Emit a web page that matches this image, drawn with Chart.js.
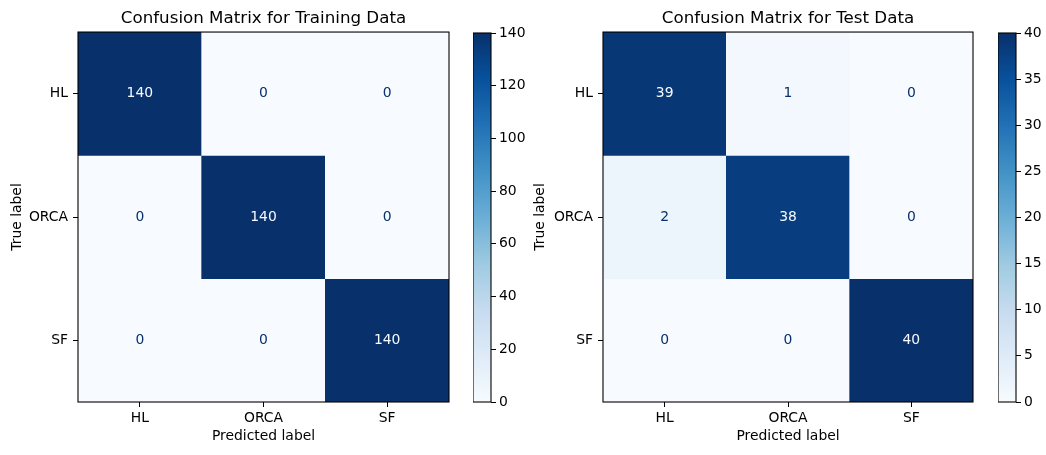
<!DOCTYPE html>
<html>
<head>
<meta charset="utf-8">
<script src="https://cdn.jsdelivr.net/npm/chart.js@4.4.0/dist/chart.umd.min.js"></script>
<style>
  html, body { margin: 0; padding: 0; background: #fff; }
  #wrap { position: relative; width: 1046px; height: 455px; overflow: hidden; }
  canvas { position: absolute; top: 0; }
</style>
</head>
<body>
<div id="wrap">
  <canvas id="cm-train" width="470" height="455" style="left:0px"></canvas>
  <canvas id="cm-test" width="470" height="455" style="left:523px"></canvas>
  <canvas id="cb-train" width="60" height="455" style="left:473px"></canvas>
  <canvas id="cb-test" width="48" height="455" style="left:998px"></canvas>
</div>
<script>
// class names (same for rows and columns)
const classLabels = ['HL', 'ORCA', 'SF'];

// confusion matrices, rows = true label, cols = predicted label
const trainMatrix = [
    [140, 0, 0],
    [0, 140, 0],
    [0, 0, 140]
];
const testMatrix = [
    [39, 1, 0],
    [2, 38, 0],
    [0, 0, 40]
];

// colorbar tick steps
const trainTickStep = 20;
const testTickStep = 5;

// matplotlib "Blues"
const blues = ['#f7fbff', '#deebf7', '#c6dbef', '#9ecae1', '#6baed6', '#4292c6', '#2171b5', '#08519c', '#08306b'];

Chart.defaults.font.family = "'DejaVu Sans', sans-serif";
Chart.defaults.color = '#000';

const tickFont = { size: 13.9 };

function hexToRgb(h) {
    return [parseInt(h.slice(1, 3), 16), parseInt(h.slice(3, 5), 16), parseInt(h.slice(5, 7), 16)];
}

function bluesAt(t) {
    t = Math.max(0, Math.min(1, t));
    const pos = t * (blues.length - 1);
    const i = Math.min(Math.floor(pos), blues.length - 2);
    const f = pos - i;
    const a = hexToRgb(blues[i]), b = hexToRgb(blues[i + 1]);
    const c = a.map((v, k) => Math.round(v + (b[k] - v) * f));
    return `rgb(${c[0]}, ${c[1]}, ${c[2]})`;
}

// black box round the plot area (matplotlib spines)
const framePlugin = {
    id: 'frame',
    afterDatasetsDraw(chart) {
        const { ctx, chartArea: a } = chart;
        ctx.save();
        ctx.strokeStyle = '#000';
        ctx.lineWidth = 1.1;
        ctx.strokeRect(a.left, a.top, a.right - a.left, a.bottom - a.top);
        ctx.restore();
    }
};

function cellTextPlugin(matrix) {
    const flat = matrix.flat();
    const thresh = (Math.max(...flat) + Math.min(...flat)) / 2;
    return {
        id: 'cellText',
        afterDatasetsDraw(chart) {
            const { ctx, scales: { x, y } } = chart;
            ctx.save();
            ctx.font = "13.9px 'DejaVu Sans'";
            ctx.textAlign = 'center';
            ctx.textBaseline = 'middle';
            matrix.forEach((row, r) => {
                row.forEach((v, c) => {
                    ctx.fillStyle = v < thresh ? blues[8] : blues[0];
                    ctx.fillText(String(v), x.getPixelForValue(c), y.getPixelForValue(r));
                });
            });
            ctx.restore();
        }
    };
}

function createHeatmap(id, title, matrix, yAxisWidth, padRight) {
    const flat = matrix.flat();
    const vmin = Math.min(...flat), vmax = Math.max(...flat);

    const datasets = matrix.map((row, r) => ({
        data: row.map(() => [r - 0.5, r + 0.5]),
        backgroundColor: row.map(v => bluesAt((v - vmin) / (vmax - vmin))),
        borderWidth: 0,
        grouped: false,
        categoryPercentage: 1,
        barPercentage: 1
    }));

    const tickGrid = { display: true, drawOnChartArea: false, offset: false, tickLength: 5, color: '#000', lineWidth: 1 };

    return new Chart(document.getElementById(id), {
        type: 'bar',
        data: { labels: classLabels, datasets },
        options: {
            responsive: false,
            animation: false,
            layout: { padding: { left: 0, right: padRight, top: 0, bottom: 0 } },
            scales: {
                x: {
                    type: 'category',
                    offset: true,
                    grid: tickGrid,
                    border: { display: false },
                    ticks: { color: '#000', font: tickFont, padding: 3, maxRotation: 0 },
                    title: { display: true, text: 'Predicted label', color: '#000', font: tickFont, padding: { top: 0, bottom: 10 } },
                    afterFit: s => { s.height = 53; }
                },
                y: {
                    type: 'linear',
                    reverse: true,
                    min: -0.5,
                    max: 2.5,
                    afterBuildTicks: s => { s.ticks = classLabels.map((_, i) => ({ value: i })); },
                    grid: tickGrid,
                    border: { display: false },
                    ticks: { color: '#000', font: tickFont, padding: 5, callback: v => classLabels[v] },
                    title: { display: true, text: 'True label', color: '#000', font: tickFont, padding: { top: 9, bottom: 9 } },
                    afterFit: s => { s.width = yAxisWidth; }
                }
            },
            plugins: {
                legend: { display: false },
                tooltip: { enabled: false },
                title: {
                    display: true,
                    text: title,
                    fullSize: false,
                    color: '#000',
                    font: { size: 16.7, weight: 'normal' },
                    padding: { top: 9, bottom: 3 }
                }
            }
        },
        plugins: [framePlugin, cellTextPlugin(matrix)]
    });
}

function createColorbar(id, matrix, step, axisWidth) {
    const flat = matrix.flat();
    const vmin = Math.min(...flat), vmax = Math.max(...flat);

    return new Chart(document.getElementById(id), {
        type: 'bar',
        data: {
            labels: [''],
            datasets: [{
                data: [[vmin, vmax]],
                backgroundColor: (c) => {
                    const area = c.chart.chartArea;
                    if (!area) return blues[4];
                    const g = c.chart.ctx.createLinearGradient(0, area.bottom, 0, area.top);
                    blues.forEach((col, i) => g.addColorStop(i / (blues.length - 1), col));
                    return g;
                },
                borderWidth: 0,
                inflateAmount: 0,
                categoryPercentage: 1,
                barPercentage: 1
            }]
        },
        options: {
            responsive: false,
            animation: false,
            layout: { padding: { left: 0, right: 0, top: 33, bottom: 53 } },
            scales: {
                x: { display: false },
                y: {
                    position: 'right',
                    min: vmin,
                    max: vmax,
                    grid: { display: true, drawOnChartArea: false, tickLength: 5, color: '#000' },
                    border: { display: false },
                    ticks: { stepSize: step, color: '#000', font: tickFont, padding: 3 },
                    afterFit: s => { s.width = axisWidth; }
                }
            },
            plugins: {
                legend: { display: false },
                tooltip: { enabled: false }
            }
        },
        plugins: [framePlugin]
    });
}

createHeatmap('cm-train', 'Confusion Matrix for Training Data', trainMatrix, 78, 21);
createHeatmap('cm-test', 'Confusion Matrix for Test Data', testMatrix, 80, 20);
createColorbar('cb-train', trainMatrix, trainTickStep, 42);
createColorbar('cb-test', testMatrix, testTickStep, 30);
</script>
</body>
</html>
